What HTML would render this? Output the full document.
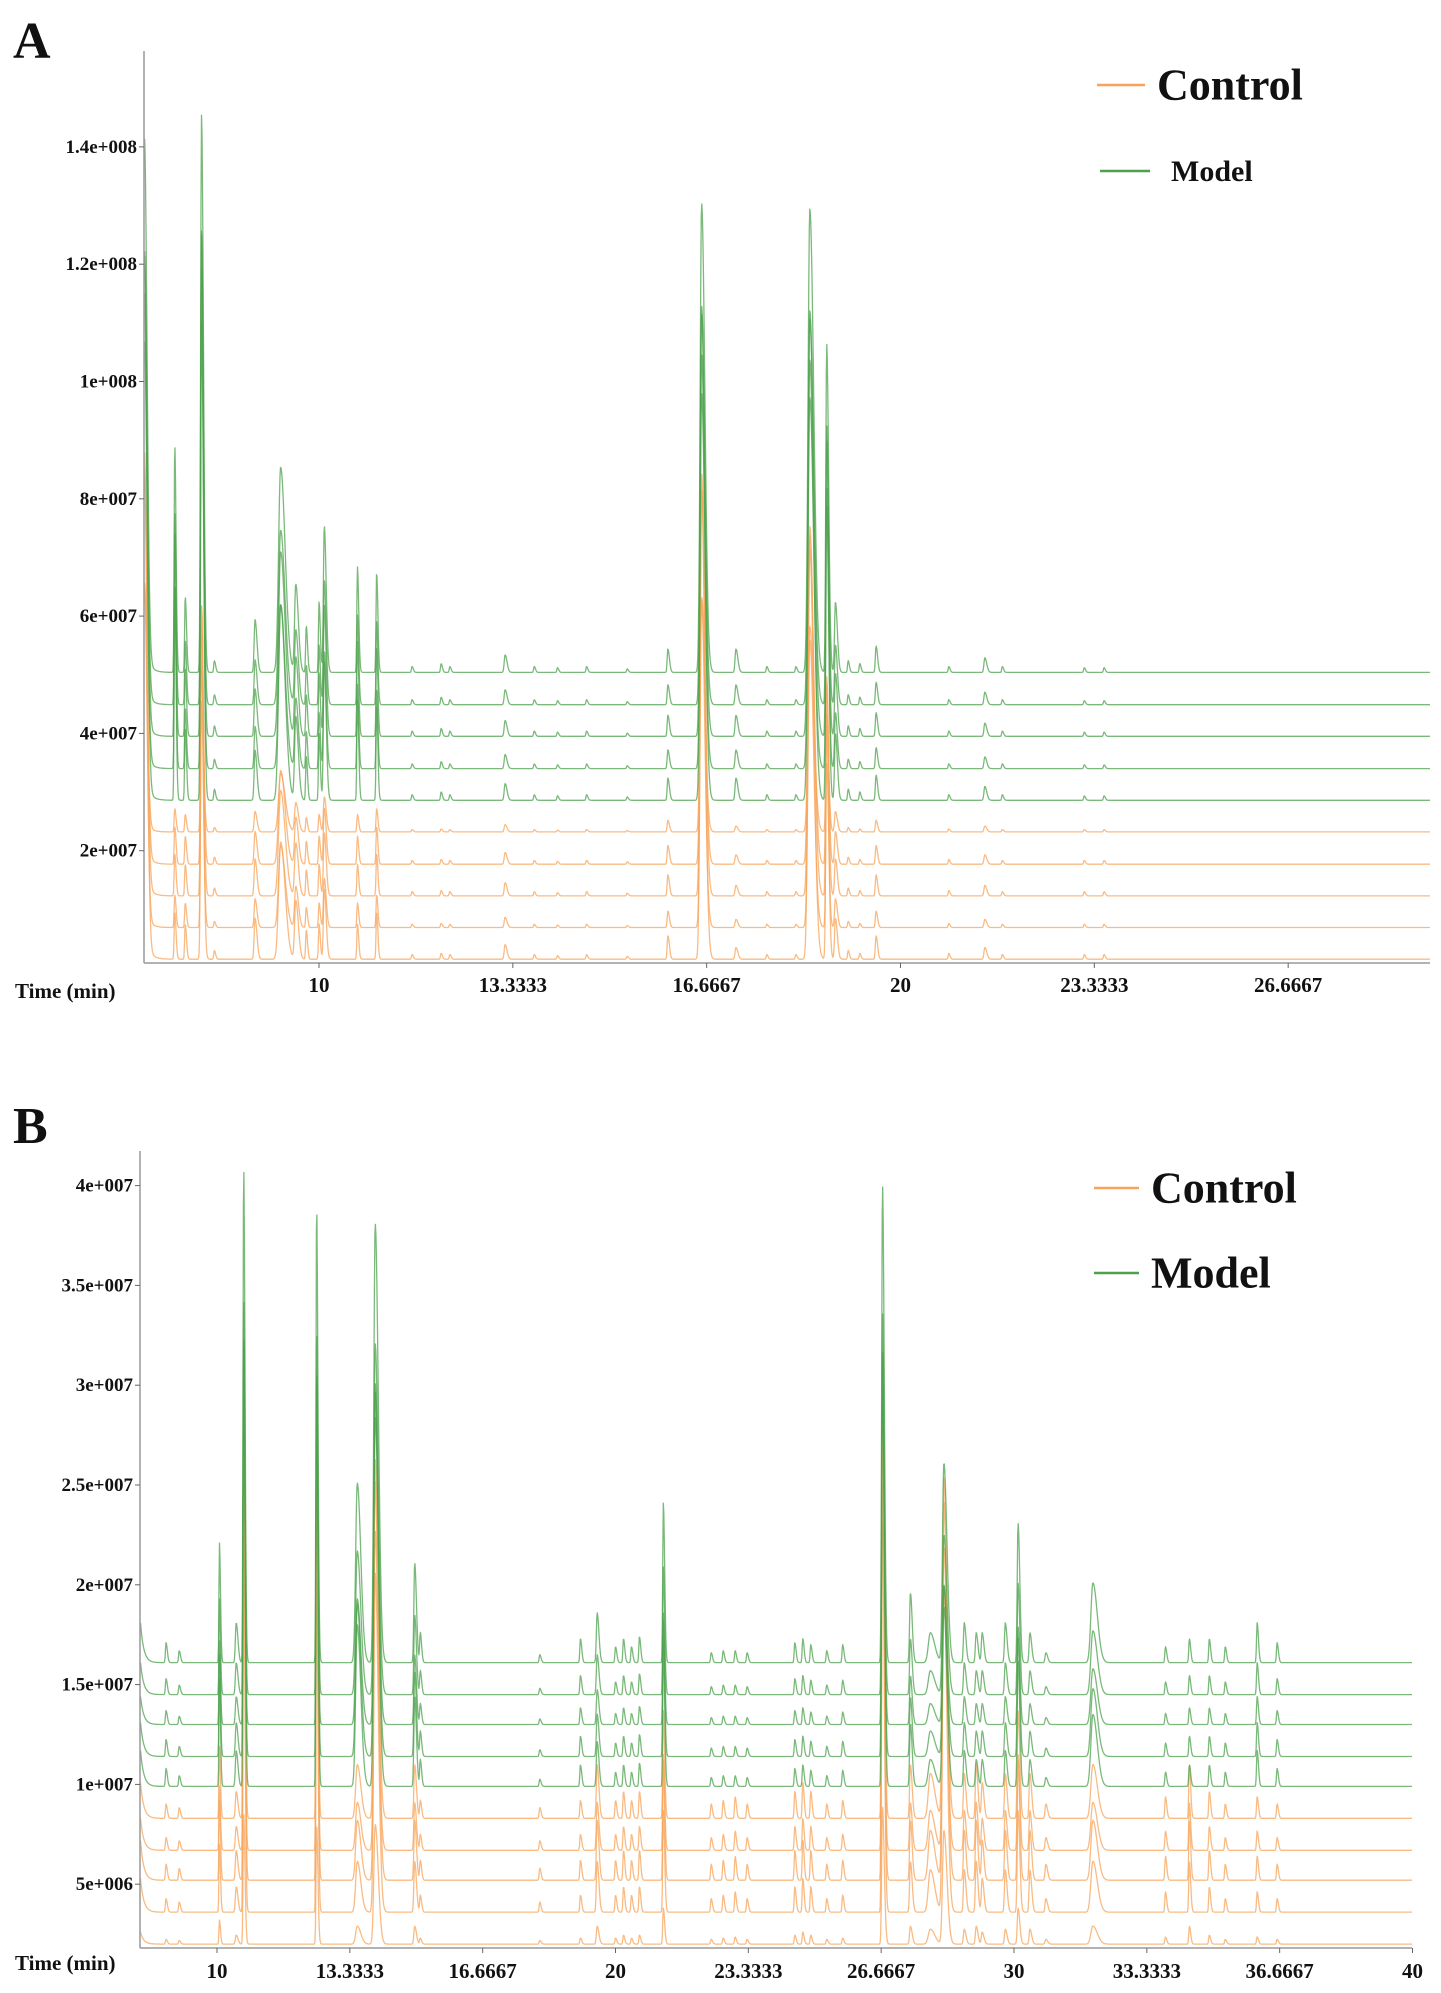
<!DOCTYPE html>
<html><head><meta charset="utf-8">
<style>
html,body{margin:0;padding:0;background:#fff;}
svg{display:block;font-family:"Liberation Serif",serif;font-weight:bold;}
</style></head>
<body>
<svg id="fig" width="1441" height="1993" viewBox="0 0 1441 1993" xmlns="http://www.w3.org/2000/svg">
<g id="panelA"></g>
<g id="panelB"></g>
</svg>
<script>
// ---------- Panel A data ----------
const aPeakTimes   = [7.0, 7.52, 7.70, 7.98, 8.2, 8.9, 9.34, 9.6, 9.78, 10.0, 10.09, 10.66, 10.99, 11.6, 12.1, 12.25, 13.2, 13.7, 14.1, 14.6, 15.3, 16.0, 16.58, 17.17, 17.7, 18.2, 18.44, 18.73, 18.88, 19.1, 19.3, 19.58, 20.83, 21.45, 21.75, 23.16, 23.5];
const aModelHeights   = [87, 39, 13, 95, 2, 9, 35, 15, 8, 12, 25, 18, 17, 1, 1.5, 1, 3, 1, 0.8, 1, 0.6, 4, 80, 4, 1, 1, 79, 56, 12, 2, 1.5, 4.5, 1, 2.5, 1, 0.8, 0.8];
const aControlHeights = [80, 8, 6, 55, 1.5, 7, 20, 10, 5, 6, 12, 6, 8, 0.8, 1, 0.8, 2.5, 0.8, 0.6, 0.8, 0.5, 4, 80, 2, 0.8, 0.8, 70, 40, 7, 1.5, 1, 4, 1, 2, 0.8, 0.8, 0.8];
const aPeakWidths  = [0.02, 0.01, 0.01, 0.015, 0.01, 0.015, 0.035, 0.02, 0.01, 0.01, 0.015, 0.01, 0.01, 0.01, 0.01, 0.01, 0.015, 0.01, 0.01, 0.01, 0.01, 0.012, 0.025, 0.015, 0.01, 0.01, 0.03, 0.015, 0.015, 0.01, 0.01, 0.012, 0.01, 0.015, 0.01, 0.01, 0.01];
const aModelBaselines   = [50.4, 44.9, 39.5, 34.0, 28.6];
const aControlBaselines = [23.2, 17.7, 12.3, 6.9, 1.5];
const aModelScales   = [1.0, 0.85, 0.9, 0.8, 0.95];
const aControlScales = [0.5, 0.8, 0.9, 0.7, 1.0];
const aYTicks = [20, 40, 60, 80, 100, 120, 140];
const aYTickLabels = ["2e+007", "4e+007", "6e+007", "8e+007", "1e+008", "1.2e+008", "1.4e+008"];
const aXTicks = [10, 13.3333, 16.6667, 20, 23.3333, 26.6667];
const aXTickLabels = ["10", "13.3333", "16.6667", "20", "23.3333", "26.6667"];

// ---------- Panel B data ----------
const bPeakTimes = [8.72, 9.05, 10.06, 10.48, 10.67, 12.5, 13.52, 13.97, 14.96, 15.1, 18.1, 19.12, 19.54, 20.0, 20.2, 20.4, 20.6, 21.2, 22.4, 22.7, 23.0, 23.3, 24.5, 24.7, 24.9, 25.3, 25.7, 26.7, 27.4, 27.9, 28.24, 28.75, 29.05, 29.2, 29.78, 30.1, 30.4, 30.8, 31.98, 33.8, 34.4, 34.9, 35.3, 36.1, 36.6];
const bModelHeights   = [1, 0.6, 6, 2, 25, 23, 9, 22, 5, 1.5, 0.4, 1.2, 2.5, 0.8, 1.2, 0.8, 1.3, 8, 0.5, 0.6, 0.6, 0.5, 1, 1.2, 0.9, 0.6, 0.9, 24, 3.5, 1.5, 10, 2, 1.5, 1.5, 2, 7, 1.5, 0.5, 4, 0.8, 1.2, 1.2, 0.8, 2, 1];
const bControlHeights = [0.8, 0.6, 4, 1.5, 22, 20, 3, 20, 3, 1, 0.6, 1, 3, 1, 1.5, 1, 1.5, 6, 0.8, 1, 1.2, 0.8, 1.5, 2, 1.5, 0.8, 1, 23, 3, 2.5, 19, 2.5, 3, 2, 2.5, 6, 2.5, 0.8, 3, 1.2, 3, 1.5, 0.8, 1.2, 0.8];
const bPeakWidths = [0.015, 0.015, 0.012, 0.02, 0.015, 0.015, 0.04, 0.035, 0.02, 0.015, 0.015, 0.015, 0.02, 0.015, 0.015, 0.015, 0.015, 0.015, 0.015, 0.015, 0.015, 0.015, 0.015, 0.015, 0.015, 0.015, 0.015, 0.02, 0.02, 0.05, 0.035, 0.02, 0.02, 0.02, 0.02, 0.02, 0.02, 0.02, 0.05, 0.015, 0.015, 0.015, 0.015, 0.015, 0.015];
const bModelBaselines   = [16.1, 14.5, 13.0, 11.4, 9.9];
const bControlBaselines = [8.3, 6.7, 5.2, 3.6, 2.0];
const bModelScales   = [1.0, 0.8, 0.7, 0.85, 0.9];
const bControlScales = [0.9, 0.8, 1.0, 0.85, 0.3];
const bYTicks = [5, 10, 15, 20, 25, 30, 35, 40];
const bYTickLabels = ["5e+006", "1e+007", "1.5e+007", "2e+007", "2.5e+007", "3e+007", "3.5e+007", "4e+007"];
const bXTicks = [10, 13.3333, 16.6667, 20, 23.3333, 26.6667, 30, 33.3333, 36.6667, 40];
const bXTickLabels = ["10", "13.3333", "16.6667", "20", "23.3333", "26.6667", "30", "33.3333", "36.6667", "40"];

const NS = "http://www.w3.org/2000/svg";
function mk(tag, attrs, parent){
  const e = document.createElementNS(NS, tag);
  for (const k in attrs) e.setAttribute(k, attrs[k]);
  parent.appendChild(e);
  return e;
}

function drawPanel(g, cfg){
  const {xScale, yScale, tMin, tMax, x0, yTop, yAxis, xEnd} = cfg;
  function traceSignal(t, heights, scale){
    let v = 0;
    for (let i = 0; i < cfg.times.length; i++){
      const d = t - cfg.times[i];
      const w = cfg.widths[i];
      const s = d < 0 ? w : w * 2.2;
      const z = d / s;
      if (Math.abs(z) < 8) v += heights[i] * scale * Math.exp(-0.5 * z * z);
    }
    v += cfg.edge * scale * Math.exp(-(t - tMin) / 0.08);
    return v;
  }
  function drawTrace(base, heights, scale, color, name){
    let d = "";
    for (let px = x0; px <= xEnd; px += 0.5){
      const t = tMin + (px - x0) / (xScale(tMax) - x0) * (tMax - tMin);
      const v = base + traceSignal(t, heights, scale);
      const y = Math.max(yTop, yScale(v));
      d += (d ? "L" : "M") + xScale(t).toFixed(1) + " " + y.toFixed(1);
    }
    const p = mk("path", {d: d, fill: "none", stroke: color, "stroke-width": 1.3, "stroke-opacity": 0.75, "stroke-linejoin": "round"}, g);
    
    
  }
  cfg.controlBases.forEach((b, i) => drawTrace(b, cfg.controlHeights, cfg.controlScales[i], "#f7a45a", "control-trace-" + (i + 1)));
  cfg.modelBases.forEach((b, i) => drawTrace(b, cfg.modelHeights, cfg.modelScales[i], "#4ea24e", "model-trace-" + (i + 1)));

  const ya = mk("line", {x1: x0, y1: yTop, x2: x0, y2: yAxis, stroke: "#999", "stroke-width": 1.5}, g);
  
  
  const xa = mk("line", {x1: x0, y1: yAxis, x2: xEnd, y2: yAxis, stroke: "#999", "stroke-width": 1.5}, g);
  
  
  cfg.yTicks.forEach((v, i) => {
    const y = yScale(v);
    const tk = mk("line", {x1: x0 - 5, y1: y, x2: x0, y2: y, stroke: "#666", "stroke-width": 1}, g);
    
    
    const tx = mk("text", {x: x0 - 7, y: y + 6, "text-anchor": "end", "font-size": 19, fill: "#111"}, g);
    tx.textContent = cfg.yLabels[i];
    
    
  });
  cfg.xTicks.forEach((t, i) => {
    const x = xScale(t);
    const tk = mk("line", {x1: x, y1: yAxis, x2: x, y2: yAxis + 5, stroke: "#666", "stroke-width": 1}, g);
    
    
    const tx = mk("text", {x: x, y: cfg.xLabelY, "text-anchor": "middle", "font-size": 21, fill: "#111"}, g);
    tx.textContent = cfg.xLabels[i];
    
    
  });
  const xt = mk("text", {x: 15, y: cfg.timeLabelY, "font-size": 21, fill: "#111"}, g);
  xt.textContent = "Time (min)";
  
  
  const pl = mk("text", {x: 13, y: cfg.letterY, "font-size": 52, fill: "#111"}, g);
  pl.textContent = cfg.letter;
  
  
  cfg.legend.forEach(L => {
    const ln = mk("line", {x1: L.x1, y1: L.y, x2: L.x2, y2: L.y, stroke: L.color, "stroke-width": 2.5}, g);
    
    
    const tx = mk("text", {x: L.tx, y: L.y + L.fs * 0.33, "font-size": L.fs, fill: "#111"}, g);
    tx.textContent = L.label;
    
    
  });
}

drawPanel(document.getElementById("panelA"), {
  times: aPeakTimes, widths: aPeakWidths,
  modelHeights: aModelHeights, controlHeights: aControlHeights,
  modelBases: aModelBaselines, controlBases: aControlBaselines,
  modelScales: aModelScales, controlScales: aControlScales,
  edge: 4,
  tMin: 7.0, tMax: 29.08,
  xScale: t => 319 + (t - 10) * 58.15,
  yScale: v => 968 - v * 5.865,
  x0: 144, yTop: 51, yAxis: 963, xEnd: 1430,
  yTicks: aYTicks, yLabels: aYTickLabels,
  xTicks: aXTicks, xLabels: aXTickLabels,
  xLabelY: 992, timeLabelY: 998, letter: "A", letterY: 58,
  legend: [
    {x1: 1097, x2: 1145, y: 85, tx: 1157, fs: 44, label: "Control", color: "#f7a45a"},
    {x1: 1100, x2: 1150, y: 171, tx: 1171, fs: 30, label: "Model", color: "#4ea24e"}
  ]
});

drawPanel(document.getElementById("panelB"), {
  times: bPeakTimes, widths: bPeakWidths,
  modelHeights: bModelHeights, controlHeights: bControlHeights,
  modelBases: bModelBaselines, controlBases: bControlBaselines,
  modelScales: bModelScales, controlScales: bControlScales,
  edge: 2,
  tMin: 8.08, tMax: 40,
  xScale: t => 217 + (t - 10) * 39.85,
  yScale: v => 1984 - v * 19.96,
  x0: 140, yTop: 1151, yAxis: 1948, xEnd: 1412,
  yTicks: bYTicks, yLabels: bYTickLabels,
  xTicks: bXTicks, xLabels: bXTickLabels,
  xLabelY: 1978, timeLabelY: 1970, letter: "B", letterY: 1143,
  legend: [
    {x1: 1094, x2: 1139, y: 1188, tx: 1151, fs: 44, label: "Control", color: "#f7a45a"},
    {x1: 1094, x2: 1139, y: 1273, tx: 1151, fs: 44, label: "Model", color: "#4ea24e"}
  ]
});
</script>
</body></html>
